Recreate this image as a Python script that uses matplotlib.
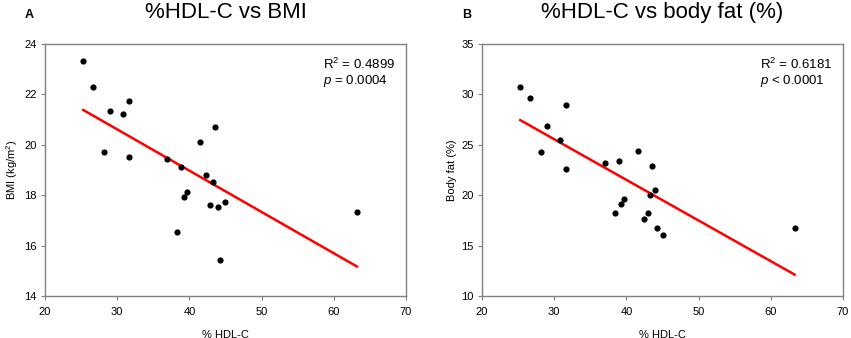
import matplotlib
matplotlib.use("Agg")
import matplotlib.pyplot as plt
import numpy as np

plt.rcParams["font.family"] = ["Liberation Sans", "DejaVu Sans"]
plt.rcParams["mathtext.fontset"] = "custom"
plt.rcParams["mathtext.rm"] = "Liberation Sans"
plt.rcParams["mathtext.it"] = "Liberation Sans:italic"

# panel A: %HDL-C vs BMI
hdl_a = [25.3, 26.6, 29.0, 30.8, 31.6, 28.2, 31.6, 36.9, 38.9, 41.5, 43.6,
         42.3, 43.2, 39.6, 39.3, 42.9, 43.9, 45.0, 38.3, 44.2, 63.2]
bmi = [23.32, 22.31, 21.33, 21.22, 21.72, 19.72, 19.52, 19.42, 19.13, 20.13, 20.72,
       18.82, 18.52, 18.12, 17.92, 17.61, 17.52, 17.73, 16.52, 15.41, 17.32]

# panel B: %HDL-C vs body fat
hdl_b = [25.3, 26.6, 31.6, 29.0, 30.8, 28.2, 31.6, 37.0, 39.0, 41.6, 43.6,
         44.0, 43.3, 39.7, 39.3, 38.4, 43.0, 42.4, 44.3, 45.1, 63.3]
fat = [30.75, 29.62, 28.93, 26.82, 25.43, 24.31, 22.6, 23.19, 23.42, 24.41, 22.93,
       20.52, 19.99, 19.6, 19.14, 18.21, 18.21, 17.59, 16.7, 16.1, 16.73]

panels = [
    ("A", "%HDL-C vs BMI", hdl_a, bmi, "BMI (kg/m$^2$)", (14, 24), np.arange(14, 25, 2),
     "R$^2$ = 0.4899", "$p$ = 0.0004"),
    ("B", "%HDL-C vs body fat (%)", hdl_b, fat, "Body fat (%)", (10, 35), np.arange(10, 36, 5),
     "R$^2$ = 0.6181", "$p$ < 0.0001"),
]

fig = plt.figure(figsize=(8.51, 3.38), dpi=100)
lefts = [45 / 851, 482 / 851]
frame = "#808080"

for left, (tag, title, x, y, ylab, ylim, yticks, r2, pval) in zip(lefts, panels):
    ax = fig.add_axes([left, 1 - 296 / 338, 361 / 851, 252 / 338])
    x = np.array(x)
    y = np.array(y)
    ax.scatter(x, y, s=20, color="black", zorder=3, linewidths=0)
    # least-squares fit, drawn over the range of the data
    k, b = np.polyfit(x, y, 1)
    xs = np.array([x.min(), x.max()])
    ax.plot(xs, k * xs + b, color="#ff0000", lw=1.8, zorder=2)

    ax.set_xlim(20, 70)
    ax.set_ylim(*ylim)
    ax.set_xticks(np.arange(20, 71, 10))
    ax.set_yticks(yticks)
    for s in ax.spines.values():
        s.set_color(frame)
        s.set_linewidth(1.0)
    ax.tick_params(direction="out", length=3, width=0.8, color=frame,
                   labelsize=8, top=False, right=False)
    ax.tick_params(axis="x", pad=5)
    ax.tick_params(axis="y", pad=3)
    ax.set_xlabel("% HDL-C", fontsize=8, labelpad=9)
    ax.set_ylabel(ylab, fontsize=8, labelpad=3)
    ax.set_title(title, fontsize=16, pad=19)
    ax.text(0.77, 0.95, r2, transform=ax.transAxes, fontsize=9.5, va="top")
    ax.text(0.77, 0.885, pval, transform=ax.transAxes, fontsize=9.5, va="top")
    fig.text(left - 20 / 851, 1 - 15 / 338, tag, fontsize=9, fontweight="bold",
             va="center")

fig.savefig("out.png", dpi=100)
